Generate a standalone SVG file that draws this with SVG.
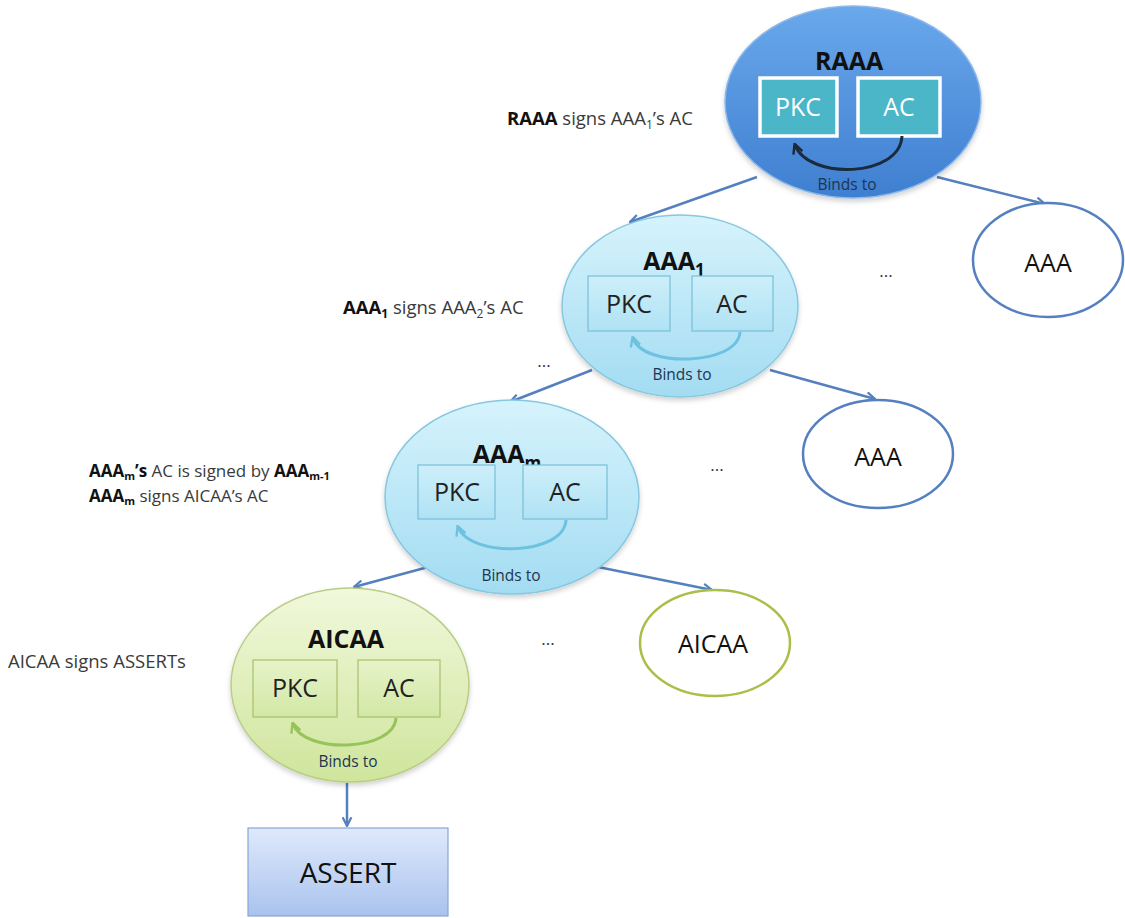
<svg xmlns="http://www.w3.org/2000/svg" width="1125" height="918" viewBox="0 0 1125 918">
<defs>
<style>
text{font-family:"Open Sans","Liberation Sans",sans-serif}
.conn{stroke:#5580bf;stroke-width:2.5;fill:none;marker-end:url(#arr)}
.note{font-size:18.5px;fill:#3a3a3a}
.note2{font-size:17px;fill:#3a3a3a}
.bold{font-weight:700;fill:#111}
.title{font-size:25px;font-weight:700;fill:#111;text-anchor:middle}
.boxtxt{font-size:25px;fill:#222;text-anchor:middle}
.binds{font-size:15.5px;fill:#1e3550;text-anchor:middle}
.dots{font-size:17px;fill:#333;text-anchor:middle}
.cyanbox{fill:url(#gCyanBox);stroke:#78bfd8;stroke-width:1.2}
.greenbox{fill:url(#gGreenBox);stroke:#a6c06a;stroke-width:1.2}
.cyanell{fill:url(#gCyan);stroke:#86c8e0;stroke-width:1.5;filter:url(#sh)}
.greenell{fill:url(#gGreen);stroke:#b9cd85;stroke-width:1.5;filter:url(#sh)}
.plain{fill:#fff;stroke:#5580bf;stroke-width:2.5}
.plaing{fill:#fff;stroke:#a9bf48;stroke-width:2.5}
.plaintxt{font-size:25px;fill:#111;text-anchor:middle}
</style>
<filter id="sh" x="-10%" y="-10%" width="120%" height="125%">
<feDropShadow dx="0" dy="3" stdDeviation="2.5" flood-color="#000" flood-opacity="0.18"/>
</filter>
<linearGradient id="gBlue" x1="0" y1="0" x2="0" y2="1">
<stop offset="0" stop-color="#6aa8ec"/><stop offset="1" stop-color="#3f7fd0"/>
</linearGradient>
<linearGradient id="gCyan" x1="0" y1="0" x2="0" y2="1">
<stop offset="0" stop-color="#d6f3fc"/><stop offset="1" stop-color="#a3dcf2"/>
</linearGradient>
<linearGradient id="gCyanBox" x1="0" y1="0" x2="0" y2="1">
<stop offset="0" stop-color="#cdeffa"/><stop offset="1" stop-color="#b0e2f4"/>
</linearGradient>
<linearGradient id="gGreen" x1="0" y1="0" x2="0" y2="1">
<stop offset="0" stop-color="#f1f8dc"/><stop offset="1" stop-color="#cfe59c"/>
</linearGradient>
<linearGradient id="gGreenBox" x1="0" y1="0" x2="0" y2="1">
<stop offset="0" stop-color="#e6f3c8"/><stop offset="1" stop-color="#d2e8a6"/>
</linearGradient>
<linearGradient id="gAssert" x1="0" y1="0" x2="0" y2="1">
<stop offset="0" stop-color="#dfe9fb"/><stop offset="1" stop-color="#a9c3ee"/>
</linearGradient>
<marker id="arr" viewBox="0 0 10 10" refX="9" refY="5" markerWidth="4.4" markerHeight="4.4" orient="auto" markerUnits="strokeWidth">
<path d="M1,1 L9,5 L1,9" fill="none" stroke="#5580bf" stroke-width="2" stroke-linejoin="miter"/>
</marker>
<marker id="arcDark" viewBox="0 0 10 10" refX="8" refY="5" markerWidth="4" markerHeight="4" orient="auto" markerUnits="strokeWidth">
<path d="M1,1 L9,5 L1,9" fill="none" stroke="#1b2a3c" stroke-width="2"/>
</marker>
<marker id="arcCyan" viewBox="0 0 10 10" refX="8" refY="5" markerWidth="4" markerHeight="4" orient="auto" markerUnits="strokeWidth">
<path d="M1,1 L9,5 L1,9" fill="none" stroke="#6cc2e0" stroke-width="2"/>
</marker>
<marker id="arcGreen" viewBox="0 0 10 10" refX="8" refY="5" markerWidth="4" markerHeight="4" orient="auto" markerUnits="strokeWidth">
<path d="M1,1 L9,5 L1,9" fill="none" stroke="#97c35a" stroke-width="2"/>
</marker>
</defs>
<rect width="1125" height="918" fill="#fff"/>

<g id="connectors">
<path class="conn" d="M757,177 L630,222"/>
<path class="conn" d="M937,177 L1045,204"/>
<path class="conn" d="M592,370 L510,402"/>
<path class="conn" d="M770,370 L875,399"/>
<path class="conn" d="M432,566 L354,587"/>
<path class="conn" d="M598,567 L712,590"/>
<path class="conn" d="M347,783 L347,826"/>
</g>

<g id="raaa">
<ellipse cx="853" cy="102" rx="128" ry="96" fill="url(#gBlue)" stroke="#8db8ea" stroke-width="1.5" filter="url(#sh)"/>
<text class="title" x="849" y="70">RAAA</text>
<rect x="760" y="78" width="77" height="58" fill="#4ab6c8" stroke="#fff" stroke-width="3.5"/>
<rect x="858" y="78" width="82" height="58" fill="#4ab6c8" stroke="#fff" stroke-width="3.5"/>
<text class="boxtxt" x="798" y="116" style="fill:#fff">PKC</text>
<text class="boxtxt" x="899" y="116" style="fill:#fff">AC</text>
<path d="M902,136 C900,178 808,180 795,145" fill="none" stroke="#1b2a3c" stroke-width="3" marker-end="url(#arcDark)"/>
<text class="binds" x="847" y="190">Binds to</text>
</g>

<g id="aaa1">
<ellipse class="cyanell" cx="680" cy="306" rx="118" ry="91"/>
<text class="title" x="674" y="270">AAA<tspan font-size="17" dy="6">1</tspan></text>
<rect class="cyanbox" x="588" y="276" width="82" height="55"/>
<rect class="cyanbox" x="692" y="276" width="81" height="55"/>
<text class="boxtxt" x="629" y="313">PKC</text>
<text class="boxtxt" x="732" y="313">AC</text>
<path d="M740,332 C738,366 642,368 633,338" fill="none" stroke="#6cc2e0" stroke-width="3" marker-end="url(#arcCyan)"/>
<text class="binds" x="682" y="380">Binds to</text>
</g>

<g id="aaa-right1">
<ellipse class="plain" cx="1048" cy="260" rx="75" ry="57"/>
<text class="plaintxt" x="1048" y="272">AAA</text>
</g>

<g id="aaam">
<ellipse class="cyanell" cx="512" cy="497" rx="127" ry="97"/>
<text class="title" x="507" y="463">AAA<tspan font-size="17" dy="6">m</tspan></text>
<rect class="cyanbox" x="418" y="465" width="77" height="54"/>
<rect class="cyanbox" x="523" y="465" width="84" height="54"/>
<text class="boxtxt" x="457" y="501">PKC</text>
<text class="boxtxt" x="565" y="501">AC</text>
<path d="M566,520 C564,556 470,558 458,527" fill="none" stroke="#6cc2e0" stroke-width="3" marker-end="url(#arcCyan)"/>
<text class="binds" x="511" y="581">Binds to</text>
</g>

<g id="aaa-right2">
<ellipse class="plain" cx="878" cy="454" rx="75" ry="54"/>
<text class="plaintxt" x="878" y="466">AAA</text>
</g>

<g id="aicaa">
<ellipse class="greenell" cx="350" cy="685" rx="119" ry="97"/>
<text class="title" x="346" y="648">AICAA</text>
<rect class="greenbox" x="253" y="660" width="84" height="57"/>
<rect class="greenbox" x="358" y="660" width="82" height="57"/>
<text class="boxtxt" x="295" y="697">PKC</text>
<text class="boxtxt" x="399" y="697">AC</text>
<path d="M396,718 C394,752 304,754 293,724" fill="none" stroke="#97c35a" stroke-width="3" marker-end="url(#arcGreen)"/>
<text class="binds" x="348" y="767">Binds to</text>
</g>

<g id="aicaa-right">
<ellipse class="plaing" cx="715" cy="643" rx="75" ry="53"/>
<text class="plaintxt" x="713" y="653">AICAA</text>
</g>

<g id="assert">
<rect x="248" y="828" width="200" height="88" fill="url(#gAssert)" stroke="#86a6d8" stroke-width="1.2"/>
<text class="plaintxt" x="348" y="883" style="font-size:28px">ASSERT</text>
</g>

<g id="dots">
<text class="dots" x="886" y="277">...</text>
<text class="dots" x="544" y="367">...</text>
<text class="dots" x="717" y="471">...</text>
<text class="dots" x="548" y="645">...</text>
</g>

<g id="notes">
<text class="note" x="507" y="125"><tspan class="bold">RAAA</tspan> signs AAA<tspan font-size="12" dy="4">1</tspan><tspan dy="-4">’s AC</tspan></text>
<text class="note" x="343" y="314"><tspan class="bold">AAA<tspan font-size="12" dy="4">1</tspan></tspan><tspan dy="-4"> signs AAA</tspan><tspan font-size="12" dy="4">2</tspan><tspan dy="-4">’s AC</tspan></text>
<text class="note2" x="89" y="477"><tspan class="bold">AAA<tspan font-size="11" dy="3">m</tspan><tspan dy="-3">’s</tspan></tspan> AC is signed by <tspan class="bold">AAA<tspan font-size="11" dy="3">m-1</tspan></tspan></text>
<text class="note2" x="89" y="502"><tspan class="bold">AAA<tspan font-size="11" dy="3">m</tspan></tspan><tspan dy="-3"> signs AICAA’s AC</tspan></text>
<text class="note" x="8" y="668">AICAA signs ASSERTs</text>
</g>
</svg>
